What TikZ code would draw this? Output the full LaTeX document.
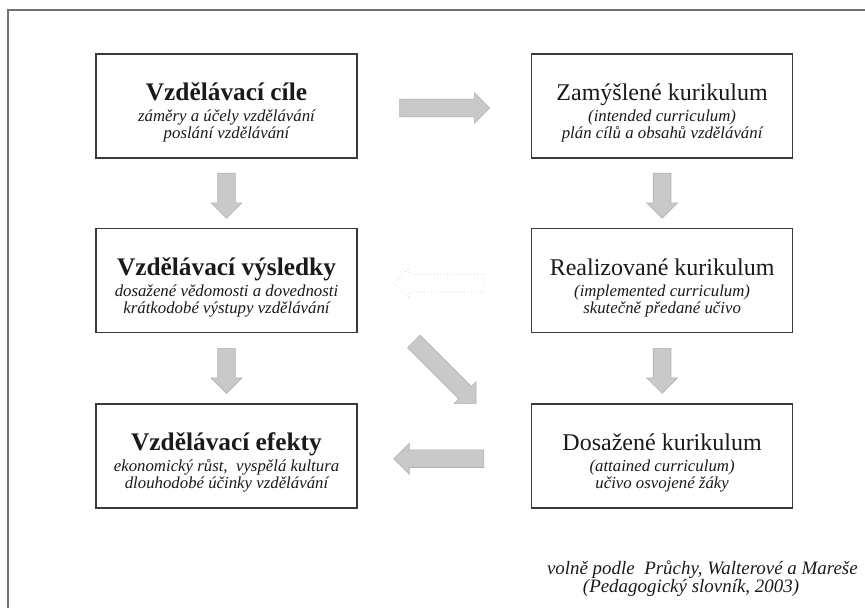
\documentclass[tikz,border=0pt]{standalone}
\usepackage{fontspec}
\setmainfont{Liberation Serif}
\usetikzlibrary{positioning,shapes.arrows,calc}
\definecolor{kurInk}{HTML}{1A1A1A}
\definecolor{kurEdge}{HTML}{3A3A3A}
\definecolor{kurFrame}{HTML}{727272}
\definecolor{kurFill}{HTML}{C9C9C9}
\definecolor{kurLine}{HTML}{B2B2B2}
\definecolor{kurDot}{HTML}{BDBDBD}
\newcommand{\kurtext}[3]{{\fontsize{18}{18}\selectfont\rule{0pt}{23pt}#1}\\[3pt]\itshape #2\\\itshape #3}
\tikzset{
  every picture/.style={text=kurInk},
  kur box/.style={draw=kurEdge, line width=1.2pt, fill=white, align=center,
    minimum width=195.75pt, minimum height=78pt, inner sep=0pt,
    font=\fontsize{12.6}{12.75}\selectfont},
  kur arrow/.style={single arrow, draw=kurLine, fill=kurFill, line width=0.5pt,
    inner xsep=0pt, inner ysep=6.4pt, single arrow head extend=4.9pt,
    minimum height=67.5pt},
  kur hollow/.style={kur arrow, draw=kurDot, fill=white, dotted},
  kur down/.style={kur arrow, minimum height=33.75pt, rotate=-90},
  kur frame/.style={draw=kurFrame, line width=1.1pt},
  kur note/.style={font=\itshape\fontsize{14.2}{13}\selectfont, inner sep=0pt}
}

\begin{document}
\lineskiplimit=-30pt
\begin{tikzpicture}[x=0.75pt,y=-0.75pt]
  \useasboundingbox (0,0) rectangle (865,608);
  \draw[kur frame] (8,608) -- (8,10) -- (865,10);

  \node[kur box] (goals) at (226.5,106)
    {\kurtext{\fontsize{19}{19}\selectfont\bfseries Vzdělávací cíle}{záměry a účely vzdělávání}{poslání vzdělávání}};
  \node[kur box, right=129.75pt of goals] (intended)
    {\kurtext{Zamýšlené kurikulum}{(intended curriculum)}{plán cílů a obsahů vzdělávání}};
  \node[kur box, below=51.75pt of goals] (results)
    {\kurtext{\fontsize{19}{19}\selectfont\bfseries Vzdělávací výsledky}{dosažené vědomosti a dovednosti}{krátkodobé výstupy vzdělávání}};
  \node[kur box, below=51.75pt of intended] (implemented)
    {\kurtext{Realizované kurikulum}{(implemented curriculum)}{skutečně předané učivo}};
  \node[kur box, below=52.5pt of results] (effects)
    {\kurtext{\fontsize{19}{19}\selectfont\bfseries Vzdělávací efekty}{ekonomický růst,~ vyspělá kultura}{dlouhodobé účinky vzdělávání}};
  \node[kur box, below=52.5pt of implemented] (attained)
    {\kurtext{Dosažené kurikulum}{(attained curriculum)}{učivo osvojené žáky}};

  % block arrows between the boxes
  \node[kur arrow] (goalsarrow) at ($(goals.east)!0.5!(intended.west)+(-4,2)$) {};
  \node[kur down] (goalsdown) at ($(goals.south)!0.5!(results.north)+(0,-2)$) {};
  \node[kur down] (intendeddown) at ($(intended.south)!0.5!(implemented.north)+(0,-2)$) {};
  \node[kur hollow, rotate=180] (implementedarrow) at ($(implemented.west)!0.5!(results.east)+(-1,2.5)$) {};
  \node[kur down] (resultsdown) at ($(results.south)!0.5!(effects.north)+(0,-2)$) {};
  \node[kur down] (implementeddown) at ($(implemented.south)!0.5!(attained.north)+(0,-2)$) {};
  \node[kur arrow, rotate=-45, minimum height=66pt] (resultsdiag) at ($(results.south east)!0.5!(attained.north west)+(-2.5,1)$) {};
  \node[kur arrow, rotate=180] (attainedarrow) at ($(attained.west)!0.5!(effects.east)+(-1,2.5)$) {};

  \node[kur note, anchor=east] (source) at (858,569.5) {volně podle~ Průchy, Walterové a Mareše};
  \node[kur note] (sourceyear) at (691,588) {(Pedagogický slovník, 2003)};
\end{tikzpicture}
\end{document}
